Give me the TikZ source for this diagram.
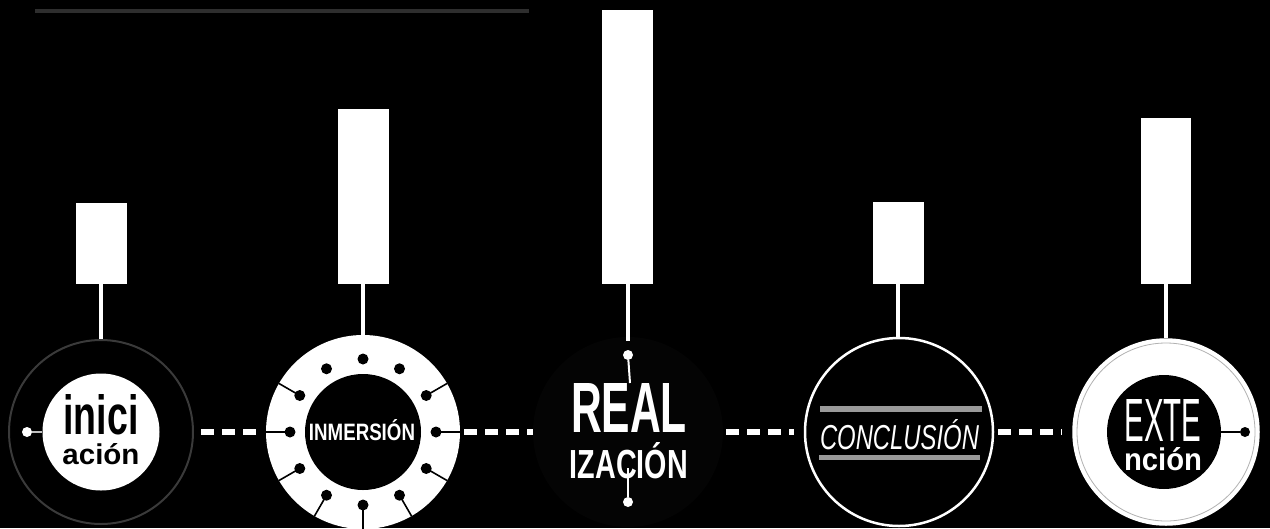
\documentclass[tikz,border=0pt]{standalone}
\usepackage{fontspec}
\usepackage{graphicx}
\setmainfont{Liberation Sans}
\usetikzlibrary{calc}
\definecolor{topgray}{HTML}{2E2E2E}
\definecolor{ringgray}{HTML}{3A3A3A}
\definecolor{bargray}{HTML}{9A9A9A}
\definecolor{faint}{HTML}{040404}
\newcommand\fitt[3]{\resizebox{#1pt}{#2pt}{#3}}
\begin{document}
\begin{tikzpicture}[x=1pt,y=-1pt,
  bar/.style={rectangle,fill=white,draw=none,minimum width=51pt,inner sep=0pt},
  stem/.style={white,line width=4pt},
  dashconn/.style={white,line width=6pt,dash pattern=on 13pt off 8pt},
  dotw/.style={circle,fill=white,draw=none,minimum size=10pt,inner sep=0pt},
  dotb/.style={circle,fill=black,draw=none,minimum size=10pt,inner sep=0pt},
  txt/.style={inner sep=0pt,outer sep=0pt},
  thin/.style={line width=1.6pt}]
\fill[black] (0,0) rectangle (1270,528);
\useasboundingbox (0,0) rectangle (1270,528);
% top line
\coordinate (tl1) at (35,11);
\coordinate (tl2) at (529,11);
\draw[topgray,line width=4pt] (tl1) -- (tl2);
% bars
\node[bar,minimum height=81pt] (r1) at (101,243.5) {};
\node[bar,minimum height=175pt] (r2) at (363,196.5) {};
\node[bar,minimum height=274pt] (r3) at (627.5,147) {};
\node[bar,minimum height=82pt] (r4) at (898,242.5) {};
\node[bar,minimum height=166pt,minimum width=50pt] (r5) at (1166,200.5) {};
% circle 1
\node[circle,draw=ringgray,line width=2pt,minimum size=184pt,inner sep=0pt] (c1) at (101,432) {};
\node[circle,fill=white,minimum size=117pt,inner sep=0pt] (c1in) at (101,432) {};
\node[dotw] (d1) at (27,432) {};
\draw[white!75!black,thin] (d1) -- (c1in.west);
\node[txt,text=black,anchor=north] (t1) at (101,394)
  {\begin{tabular}{@{}c@{}}\fitt{75}{40}{\bfseries inici}\\[5.4pt]\fitt{77}{21}{\bfseries ación}\end{tabular}};
\draw[stem] (r1.south) -- (r1.south |- c1.north);
% circle 2
\node[circle,fill=white,minimum size=194pt,inner sep=0pt] (c2) at (363,432) {};
\node[circle,fill=black,minimum size=116pt,inner sep=0pt] (c2in) at (363,432) {};
\foreach \a in {0,30,60,90,120,150,180,210,330}
  \draw[black,line width=1.6pt] ($(c2)+(\a:73)$) -- ($(c2)+(\a:97)$);
\foreach \a in {0,30,...,330}
  \fill[black] ($(c2)+(\a:73)$) circle (5.5);
\node[txt,text=white] (t2) at (362,430.5) {\fitt{106}{21}{\bfseries INMERSIÓN}};
\draw[stem] (r2.south) -- (r2.south |- c2.north);
% circle 3
\node[circle,fill=faint,minimum size=190pt,inner sep=0pt] (c3) at (628,432) {};
\coordinate (s3) at (627.5,341);
\draw[stem] (r3.south) -- (s3);
\node[dotw] (d3a) at (628,355) {};
\node[dotw] (d3b) at (628,502) {};
\node[txt,text=white,anchor=north] (t3) at (629,383)
  {\begin{tabular}{@{}c@{}}\fitt{116}{49}{\bfseries REAL}\\[6.4pt]\fitt{118}{36}{\bfseries IZACIÓN}\end{tabular}};
\coordinate (k3a) at (630,383);
\coordinate (k3b) at (628,468);
\draw[white,line width=2pt] (d3a) -- (k3a);
\draw[white,line width=2pt] (k3b) -- (d3b);
% circle 4
\node[circle,draw=white,line width=2.5pt,minimum size=188pt,inner sep=0pt] (c4) at (899,432) {};
\node[rectangle,fill=bargray,minimum width=162pt,minimum height=6pt,inner sep=0pt] (b4t) at (901,409) {};
\node[rectangle,fill=bargray,minimum width=161pt,minimum height=5pt,inner sep=0pt] (b4b) at (899.5,457.5) {};
\node[txt,text=white] (t4) at (899.5,435) {\fitt{159}{30}{\itshape CONCLUSIÓN}};
\draw[stem] (r4.south) -- (r4.south |- c4.north);
% circle 5
\node[circle,fill=white,draw=white,line width=1.5pt,minimum size=186pt,inner sep=0pt] (c5) at (1166,432) {};
\draw[white!70!black,line width=0.8pt] (c5) circle (89);
\node[circle,fill=black,minimum size=114pt,inner sep=0pt] (c5in) at (1164,432) {};
\node[dotb] (d5) at (1245,432) {};
\draw[black,thin] (c5in.east) -- (d5);
\node[txt,text=white,anchor=north] (t5) at (1163,399)
  {\begin{tabular}{@{}c@{}}\fitt{77}{42}{EXTE}\\[2.4pt]\fitt{78}{23}{\bfseries nción}\end{tabular}};
\draw[stem] (r5.south) -- (r5.south |- c5.north);
% dashed connectors
\draw[dashconn,shorten <=7pt,shorten >=6pt] (c1.east) -- (c2.west);
\draw[dashconn,shorten <=4pt,shorten >=0pt] (c2.east) -- (c3.west);
\draw[dashconn,shorten <=3pt,shorten >=10pt] (c3.east) -- (c4.west);
\draw[dashconn,shorten <=4pt,shorten >=10pt] (c4.east) -- (c5.west);
\end{tikzpicture}
\end{document}
